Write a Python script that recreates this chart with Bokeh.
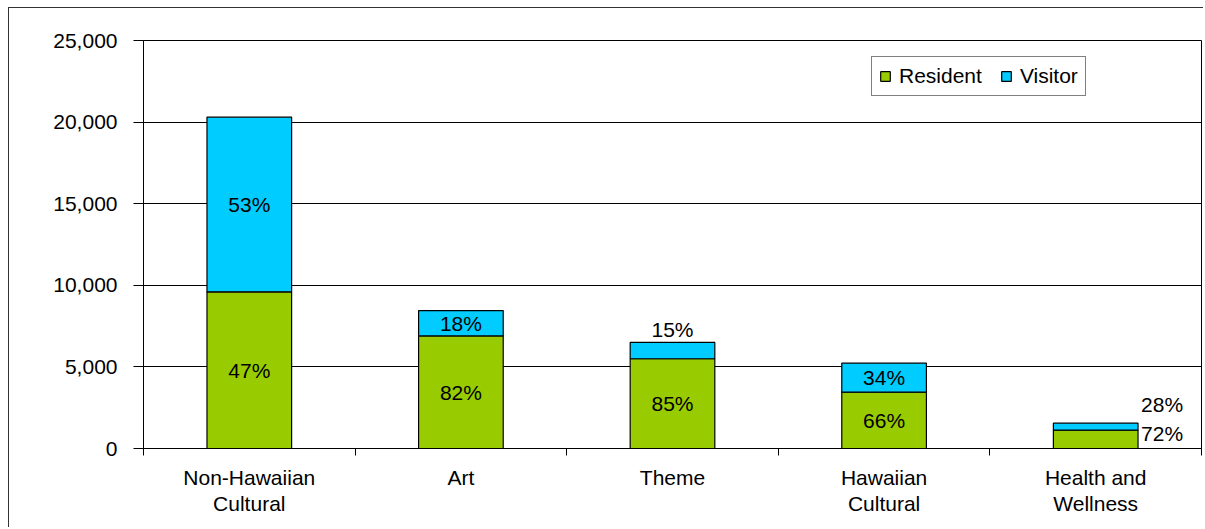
from bokeh.plotting import figure
from bokeh.models import (FixedTicker, NumeralTickFormatter, ColumnDataSource,
                          Legend, LegendItem)
from bokeh.core.properties import value
from bokeh.embed import file_html
from bokeh.resources import INLINE

# ---------------- data ----------------
categories = ["Non-Hawaiian\nCultural", "Art", "Theme", "Hawaiian\nCultural", "Health and\nWellness"]
resident = [9600, 6900, 5500, 3450, 1120]
visitor = [10700, 1550, 1000, 1780, 430]
resident_pct = ["47%", "82%", "85%", "66%", "72%"]
visitor_pct = ["53%", "18%", "15%", "34%", "28%"]
y_ticks = [0, 5000, 10000, 15000, 20000, 25000]
series_names = ["Resident", "Visitor"]

# ---------------- styles ----------------
GREEN = "#99CC00"
CYAN = "#00CCFF"
FONT = "Liberation Sans"
FS = "21px"
BAR_W = 0.4

n = len(categories)
xc = [i + 0.5 for i in range(n)]
total = [r + v for r, v in zip(resident, visitor)]

p = figure(width=1195, height=520, x_range=(0, n), y_range=(0, y_ticks[-1]),
           output_backend="svg", toolbar_location=None,
           min_border_left=134, min_border_right=3, min_border_top=32, min_border_bottom=80)
p.styles = {"margin-left": "8px", "margin-top": "7px",
            "border-left": "1px solid #333333", "border-top": "1px solid #333333"}
p.background_fill_color = "white"
p.border_fill_color = "white"
p.outline_line_color = "black"
p.outline_line_width = 1

src = ColumnDataSource(dict(x=xc, res=resident, tot=total))
r_res = p.vbar(x="x", bottom=0, top="res", width=BAR_W, source=src,
               fill_color=GREEN, line_color="black", line_width=1.2)
r_vis = p.vbar(x="x", bottom="res", top="tot", width=BAR_W, source=src,
               fill_color=CYAN, line_color="black", line_width=1.2)

# grid
p.xgrid.visible = False
p.ygrid.ticker = FixedTicker(ticks=y_ticks)
p.ygrid.grid_line_color = "black"
p.ygrid.grid_line_width = 1
p.ygrid.level = "underlay"

# y axis
ya = p.yaxis[0]
ya.ticker = FixedTicker(ticks=y_ticks)
ya.formatter = NumeralTickFormatter(format="0,0")
ya.major_tick_out = 10
ya.major_tick_in = 0
ya.minor_tick_out = 0
ya.major_tick_line_color = "black"
ya.axis_line_color = "black"
ya.major_label_text_font = FONT
ya.major_label_text_font_size = FS
ya.major_label_text_color = "black"
ya.major_label_standoff = 16

# x axis
xa = p.xaxis[0]
xa.ticker = FixedTicker(ticks=xc, minor_ticks=list(range(n + 1)))
xa.major_label_overrides = {x: c for x, c in zip(xc, categories)}
xa.major_tick_out = 0
xa.major_tick_in = 0
xa.minor_tick_out = 7
xa.minor_tick_in = 0
xa.minor_tick_line_color = "black"
xa.axis_line_color = "black"
xa.major_label_text_font = FONT
xa.major_label_text_font_size = FS
xa.major_label_text_color = "black"
xa.major_label_text_line_height = 1.15
xa.major_label_standoff = 10

# percentage labels
lx, ly, lt, la, lb, ox, oy = [], [], [], [], [], [], []
for i in range(n):
    # resident label
    if i == n - 1:
        lx.append(xc[i] + BAR_W / 2); ly.append(resident[i]); la.append("left"); lb.append("middle")
        ox.append(3); oy.append(3)
    else:
        lx.append(xc[i]); ly.append(resident[i] / 2); la.append("center"); lb.append("middle")
        ox.append(0); oy.append(0)
    lt.append(resident_pct[i])
    # visitor label
    if i == 2:
        lx.append(xc[i]); ly.append(total[i]); la.append("center"); lb.append("bottom")
        ox.append(0); oy.append(-1)
    elif i == n - 1:
        lx.append(xc[i] + BAR_W / 2); ly.append(total[i]); la.append("left"); lb.append("middle")
        ox.append(3); oy.append(-19)
    else:
        lx.append(xc[i]); ly.append(resident[i] + visitor[i] / 2); la.append("center"); lb.append("middle")
        ox.append(0); oy.append(0)
    lt.append(visitor_pct[i])

lsrc = ColumnDataSource(dict(x=lx, y=ly, t=lt, a=la, b=lb, ox=ox, oy=oy))
p.text(x="x", y="y", text="t", source=lsrc, text_align="a", text_baseline="b",
       x_offset="ox", y_offset="oy", text_font=value(FONT), text_font_size=FS,
       text_color="black")

# legend
legend = Legend(items=[LegendItem(label=series_names[0], renderers=[r_res]),
                       LegendItem(label=series_names[1], renderers=[r_vis])],
                orientation="horizontal", location=(728, 352))
legend.border_line_color = "black"
legend.border_line_width = 1
legend.background_fill_color = "white"
legend.background_fill_alpha = 1
legend.label_text_font = FONT
legend.label_text_font_size = FS
legend.label_text_color = "black"
legend.glyph_width = 12
legend.glyph_height = 12
legend.label_standoff = 8
legend.spacing = 18
legend.padding = 7
legend.margin = 0
p.add_layout(legend)

open("out.html", "w").write(file_html(p, INLINE))
